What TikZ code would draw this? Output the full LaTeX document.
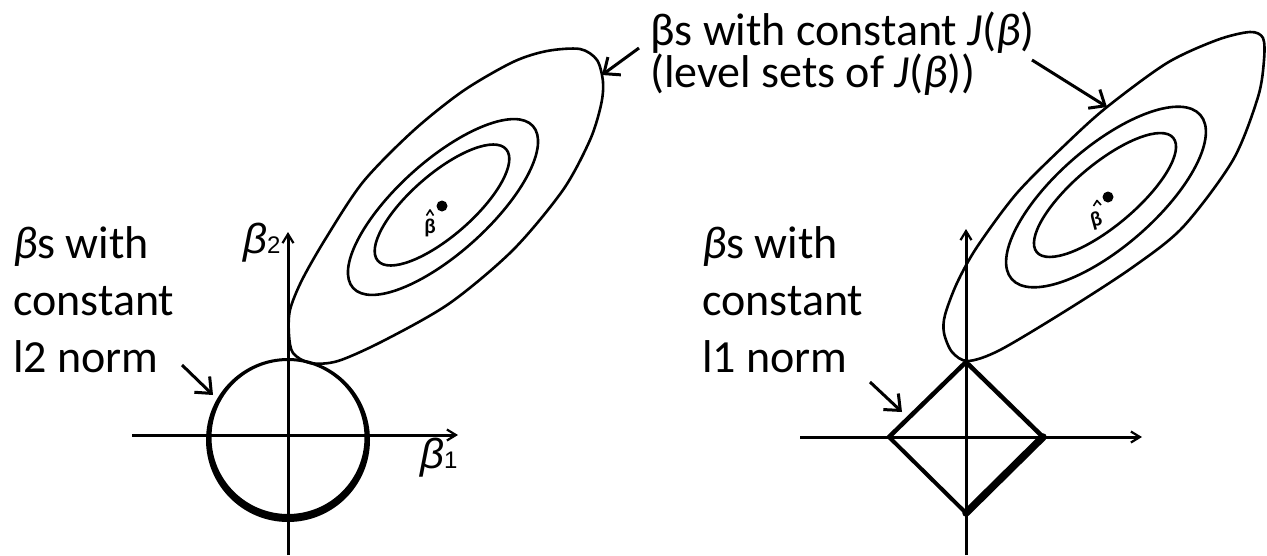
\documentclass[tikz,border=0pt]{standalone}
\usepackage{fontspec}
\setmainfont{Carlito}
\newfontfamily\arialfont{Liberation Sans}
\usetikzlibrary{arrows.meta}
\begin{document}
\begin{tikzpicture}[x=1pt,y=-1pt,
  lbl/.style={font=\fontsize{46}{57}\selectfont, align=left, inner sep=0pt, anchor=base west},
  toplbl/.style={font=\fontsize{46}{42}\selectfont, align=left, inner sep=0pt, anchor=base west},
  axis/.style={line width=3pt, -{Straight Barb[length=9pt,width=11pt,line width=2.2pt]}},
  callout/.style={line width=3pt, -{Straight Barb[length=13pt,width=22pt,line width=3pt]}},
  contour/.style={line width=2.6pt, line join=round},
  axlbl/.style={inner sep=0pt, anchor=base west},
  hatlbl/.style={inner sep=0pt, anchor=base, font=\fontsize{21}{21}\selectfont\bfseries},
  caret/.style={line width=1.6pt, line join=round},
]
\useasboundingbox (0,0) rectangle (1267,555);

% ---------- left panel ----------
\coordinate (LxS) at (132,435);
\coordinate (LxE) at (458,435);
\coordinate (LyS) at (288,555);
\coordinate (LyE) at (288,232);
\draw[axis] (LxS) -- (LxE);
\draw[axis] (LyS) -- (LyE);
\fill[even odd rule] (288,440) circle[radius=82] (288,437.5) circle[radius=76.5];

\draw[contour] plot[smooth cycle] coordinates {
 (289,335) (290,310) (302,280) (326,238) (363,182) (413,131) (463,91) (513,62)
 (547,51) (580,49) (597,60) (603,82) (601,105) (590,140) (563,190) (513,250)
 (450,303) (385,340) (338,361) (310,363) (293,353)};
\draw[contour, rotate around={42:(443,207)}] (443,207) ellipse[x radius=121, y radius=46];
\draw[contour, rotate around={41:(442,205)}] (442,205) ellipse[x radius=85, y radius=31];
\fill (442,206) circle[radius=5.5];
\node[hatlbl] (Lhat) at (430,233) {β};
\draw[caret] (426.5,215.5) -- (430,210) -- (433.5,215.5);

\node[axlbl] (Lb2) at (243,253) {\arialfont\fontsize{42}{42}\selectfont\itshape β\upshape\fontsize{24}{24}\selectfont 2};
\node[axlbl] (Lb1) at (420,468) {\arialfont\fontsize{42}{42}\selectfont\itshape β\upshape\fontsize{24}{24}\selectfont 1};

\node[lbl] (Ltxt) at (13,372) {\textit{β}s with\\constant\\l2 norm};
\coordinate (LaS) at (182,365);
\coordinate (LaE) at (213,395);
\draw[callout] (LaS) -- (LaE);

% ---------- right panel ----------
\coordinate (RxS) at (800,437);
\coordinate (RxE) at (1142,437);
\coordinate (RyS) at (966,555);
\coordinate (RyE) at (966,229);
\draw[axis] (RxS) -- (RxE);
\draw[axis] (RyS) -- (RyE);
\coordinate (dT) at (966,362);
\coordinate (dL) at (889,437);
\coordinate (dR) at (1043,437);
\coordinate (dB) at (966,513);
\draw[line width=4.5pt, line cap=round] (dT) -- (dL);
\draw[line width=4.5pt, line cap=round] (dT) -- (dR);
\draw[line width=4pt, line cap=round] (dL) -- (dB);
\draw[line width=7.5pt, line cap=round] (dR) -- (dB);

\draw[contour] plot[smooth cycle] coordinates {
 (944,333) (945,315) (957,283) (977,247) (1017,193) (1067,143) (1107,107) (1167,63)
 (1217,40) (1250,32) (1263,38) (1264,60) (1258,97) (1233,160) (1183,227) (1133,267)
 (1067,310) (1000,350) (968,361) (952,352)};
\draw[contour, rotate around={41:(1106,197)}] (1106,197) ellipse[x radius=125, y radius=50];
\draw[contour, rotate around={40:(1105,195)}] (1105,195) ellipse[x radius=89, y radius=31];
\fill (1108,197) circle[radius=5.5];
\node[hatlbl, rotate=15] (Rhat) at (1098,226) {β};
\draw[caret] (1093.5,206) -- (1097,200.5) -- (1101,205);

\node[lbl] (Rtxt) at (702,372) {\textit{β}s with\\constant\\l1 norm};
\coordinate (RaS) at (870,382);
\coordinate (RaE) at (902,412);
\draw[callout] (RaS) -- (RaE);

% ---------- top label ----------
\node[toplbl] (Ttxt) at (650,87) {βs with constant \textit{J}(\textit{β})\\(level sets of \textit{J}(\textit{β}))};
\coordinate (TaS) at (639,48);
\coordinate (TaE) at (602,75);
\draw[callout] (TaS) -- (TaE);
\coordinate (UaS) at (1032,60);
\coordinate (UaE) at (1107,107);
\draw[callout] (UaS) -- (UaE);
\end{tikzpicture}
\end{document}
